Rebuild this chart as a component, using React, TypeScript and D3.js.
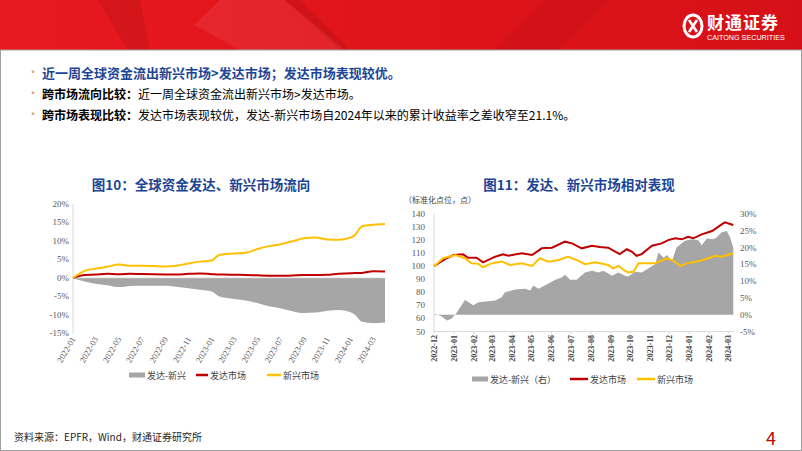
import React from 'react';
import * as d3 from 'd3';

const W = 802;
const H = 451;

const parse = d3.timeParse('%Y-%m-%d');

// 图10：全球资金发达、新兴市场流向 (累计流入占比, %)
const flowDates = [
  '2022-01-01', '2022-02-01', '2022-03-01', '2022-04-01', '2022-05-01', '2022-06-01',
  '2022-07-01', '2022-08-01', '2022-09-01', '2022-10-01', '2022-11-01', '2022-12-01',
  '2023-01-01', '2023-01-20', '2023-02-01', '2023-03-01', '2023-04-01', '2023-05-01',
  '2023-06-01', '2023-07-01', '2023-08-01', '2023-09-01', '2023-10-01', '2023-11-01',
  '2023-12-01', '2024-01-01', '2024-01-12', '2024-02-01', '2024-03-01', '2024-04-01',
];
const flowDeveloped = [
  0, 0.8, 0.9, 1.1, 1.0, 1.1, 1.05, 1.0, 0.95, 0.9, 1.1, 1.2,
  1.0, 0.9, 0.9, 0.85, 0.8, 0.7, 0.6, 0.55, 0.65, 0.75, 0.8, 0.85,
  1.15, 1.25, 1.3, 1.35, 1.8, 1.75,
];
const flowEmerging = [
  0, 1.9, 2.5, 3.0, 3.6, 3.3, 3.3, 3.2, 3.1, 3.3, 3.9, 4.4,
  4.7, 6.2, 6.4, 6.6, 6.8, 7.8, 8.6, 9.1, 9.9, 10.7, 10.9, 10.4,
  10.3, 10.9, 11.5, 14.0, 14.4, 14.6,
];
const flowSpread = [
  0, -1.0, -1.6, -2.0, -2.5, -2.2, -2.1, -2.1, -2.1, -2.4, -2.8, -3.2,
  -3.7, -5.0, -5.3, -5.7, -6.1, -6.8, -7.7, -8.2, -9.0, -9.5, -9.4, -8.9,
  -8.7, -9.3, -9.9, -11.9, -12.3, -12.1,
];
const flowYTicks = [20, 15, 10, 5, 0, -5, -10, -15];

// 图11：发达、新兴市场相对表现 (标准化点位)
const perfDeveloped: [string, number][] = [
  ['2022-12-01', 100], ['2022-12-18', 105.5], ['2022-12-31', 108.6], ['2023-01-15', 109.1],
  ['2023-01-23', 106.5], ['2023-02-05', 106.5], ['2023-02-15', 103], ['2023-03-06', 107.3],
  ['2023-03-18', 109.1], ['2023-03-26', 108], ['2023-04-16', 109.9], ['2023-05-02', 108.6],
  ['2023-05-17', 113.7], ['2023-06-02', 114.2], ['2023-06-22', 118.8], ['2023-07-03', 117.5],
  ['2023-07-18', 113.7], ['2023-08-03', 115.7], ['2023-08-15', 114.7], ['2023-08-28', 114.2],
  ['2023-09-08', 111.1], ['2023-09-15', 109.3], ['2023-09-26', 113], ['2023-10-04', 111.1],
  ['2023-10-11', 108], ['2023-10-19', 109.3], ['2023-11-04', 115.7], ['2023-11-19', 117.5],
  ['2023-11-29', 120], ['2023-12-10', 121.4], ['2023-12-20', 120.6], ['2023-12-30', 122.6],
  ['2024-01-07', 121.4], ['2024-01-20', 124.4], ['2024-02-05', 127], ['2024-02-20', 132.1],
  ['2024-02-25', 133.6], ['2024-03-09', 131.6],
];
const perfEmerging: [string, number][] = [
  ['2022-12-01', 100], ['2022-12-15', 106.1], ['2023-01-03', 108.6], ['2023-01-18', 106.1],
  ['2023-01-28', 102.2], ['2023-02-08', 101.8], ['2023-02-15', 99.2], ['2023-02-28', 102.2],
  ['2023-03-16', 103.5], ['2023-03-29', 100.9], ['2023-04-16', 102.2], ['2023-05-02', 100.2],
  ['2023-05-14', 106.1], ['2023-05-27', 103.5], ['2023-06-12', 104.8], ['2023-06-27', 107.3],
  ['2023-07-10', 104.8], ['2023-07-23', 101.5], ['2023-08-08', 103], ['2023-08-28', 100.9],
  ['2023-09-05', 98.4], ['2023-09-13', 100.2], ['2023-09-21', 97.1], ['2023-09-28', 95.3],
  ['2023-10-06', 95.8], ['2023-10-14', 102.2], ['2023-10-24', 102.2], ['2023-11-09', 102.2],
  ['2023-11-27', 106.1], ['2023-12-05', 104.8], ['2023-12-18', 100.2], ['2023-12-28', 102.2],
  ['2024-01-07', 103], ['2024-01-18', 104.2], ['2024-01-30', 106.1], ['2024-02-10', 108],
  ['2024-02-20', 107.3], ['2024-03-09', 109.9],
];
// 发达-新兴 (右轴, %)
const perfSpread: [string, number][] = [
  ['2022-12-01', 0], ['2022-12-03', 0.3], ['2022-12-13', -0.5], ['2022-12-21', -1.7],
  ['2022-12-28', -1.2], ['2023-01-04', 0.3], ['2023-01-18', 4.4], ['2023-01-31', 2.8],
  ['2023-02-08', 3.7], ['2023-02-23', 4.0], ['2023-03-06', 4.2], ['2023-03-16', 5.2],
  ['2023-03-21', 6.7], ['2023-04-06', 7.5], ['2023-04-21', 7.7], ['2023-04-29', 7.2],
  ['2023-05-04', 8.7], ['2023-05-12', 7.7], ['2023-05-27', 9.2], ['2023-06-07', 10.4],
  ['2023-06-17', 11.1], ['2023-06-22', 11.9], ['2023-06-30', 10.4], ['2023-07-10', 10.4],
  ['2023-07-23', 12.6], ['2023-08-03', 13.1], ['2023-08-13', 12.6], ['2023-08-21', 13.1],
  ['2023-09-03', 11.6], ['2023-09-13', 12.6], ['2023-09-23', 11.6], ['2023-09-28', 11.4],
  ['2023-10-09', 12.8], ['2023-10-19', 12.6], ['2023-10-29', 13.8], ['2023-11-09', 15.1],
  ['2023-11-14', 18.5], ['2023-11-22', 17.0], ['2023-11-27', 17.8], ['2023-12-05', 16.1],
  ['2023-12-12', 20.0], ['2023-12-25', 22.0], ['2024-01-05', 22.5], ['2024-01-15', 22.2],
  ['2024-01-20', 20.7], ['2024-01-28', 22.7], ['2024-02-07', 22.5], ['2024-02-12', 23.0],
  ['2024-02-20', 24.6], ['2024-02-28', 24.9], ['2024-03-04', 23.0], ['2024-03-09', 20.0],
];
const perfLeftTicks = [140, 130, 120, 110, 100, 90, 80, 70, 60, 50];
const perfRightTicks = [30, 25, 20, 15, 10, 5, 0, -5];

const RED = '#C00000';
const YELLOW = '#FFC000';
const GRAY = '#A6A6A6';
const BLUE = '#1C4595';
const CJK = '"Noto Sans CJK SC", "Noto Sans", sans-serif';
const SERIF = '"Liberation Serif", "DejaVu Serif", serif';

function FlowChart() {
  const x = d3.scaleTime().domain([parse('2022-01-01')!, parse('2024-04-01')!]).range([73, 385]);
  const y = d3.scaleLinear().domain([-15, 20]).range([333.3, 204]);
  const pts = flowDates.map((d, i) => ({ d: parse(d)!, r: flowDeveloped[i], e: flowEmerging[i], s: flowSpread[i] }));
  const area = d3.area<any>().x(p => x(p.d)).y0(y(0)).y1(p => y(p.s)).curve(d3.curveMonotoneX);
  const lineR = d3.line<any>().x(p => x(p.d)).y(p => y(p.r)).curve(d3.curveMonotoneX);
  const lineE = d3.line<any>().x(p => x(p.d)).y(p => y(p.e)).curve(d3.curveMonotoneX);
  const ticks = x.ticks(d3.timeMonth.every(2)!);
  const fmt = d3.timeFormat('%Y-%m');
  return (
    <g>
      <text x={201} y={190} textAnchor="middle" fontFamily={CJK} fontWeight={700} fontSize={13.5} fill={BLUE}>
        图10：全球资金发达、新兴市场流向
      </text>
      <line x1={73} x2={73} y1={204} y2={333.3} stroke="#D9D9D9" />
      {flowYTicks.map(t => (
        <text key={t} x={69} y={y(t) + 3} textAnchor="end" fontFamily={SERIF} fontSize={9} fill="#595959">
          {t}%
        </text>
      ))}
      <path d={area(pts)!} fill={GRAY} />
      <line x1={73} x2={385} y1={y(0)} y2={y(0)} stroke="#D9D9D9" strokeWidth={0.8} />
      <path d={lineR(pts)!} fill="none" stroke={RED} strokeWidth={2} />
      <path d={lineE(pts)!} fill="none" stroke={YELLOW} strokeWidth={2} />
      {ticks.map(t => (
        <text key={+t} transform={`translate(${x(t) + 3},${339}) rotate(-60)`} textAnchor="end"
          fontFamily={SERIF} fontSize={8.5} fill="#595959">
          {fmt(t)}
        </text>
      ))}
      <g fontFamily={CJK} fontSize={9} fill="#404040">
        <rect x={129} y={372.5} width={16} height={5} fill={GRAY} />
        <text x={147} y={378.5}>发达-新兴</text>
        <line x1={196} x2={208} y1={375} y2={375} stroke={RED} strokeWidth={2.5} />
        <text x={210} y={378.5}>发达市场</text>
        <line x1={267} x2={281} y1={375} y2={375} stroke={YELLOW} strokeWidth={2.5} />
        <text x={283} y={378.5}>新兴市场</text>
      </g>
    </g>
  );
}

function PerfChart() {
  const x = d3.scaleTime().domain([parse('2022-12-01')!, parse('2024-03-09')!]).range([434, 733.3]);
  const yL = d3.scaleLinear().domain([50, 140]).range([331.5, 214]);
  const yR = d3.scaleLinear().domain([-5, 30]).range([331.5, 214]);
  const area = d3.area<[string, number]>().x(p => x(parse(p[0])!)).y0(yR(0)).y1(p => yR(p[1]));
  const line = d3.line<[string, number]>().x(p => x(parse(p[0])!)).y(p => yL(p[1]));
  const ticks = d3.timeMonth.range(parse('2022-12-01')!, parse('2024-03-02')!);
  const fmt = d3.timeFormat('%Y-%m');
  return (
    <g>
      <text x={579} y={190} textAnchor="middle" fontFamily={CJK} fontWeight={700} fontSize={13.5} fill={BLUE}>
        图11：发达、新兴市场相对表现
      </text>
      <text x={404} y={203} fontFamily={CJK} fontSize={8} fill="#404040">（标准化点位，点）</text>
      <path d={area(perfSpread)!} fill={GRAY} />
      <line x1={434} x2={434} y1={214} y2={331.5} stroke="#D9D9D9" />
      <line x1={434} x2={733.3} y1={331.5} y2={331.5} stroke="#D9D9D9" />
      {perfLeftTicks.map(t => (
        <text key={t} x={425} y={yL(t) + 3} textAnchor="end" fontFamily={SERIF} fontSize={9} fill="#595959">
          {t}
        </text>
      ))}
      {perfRightTicks.map(t => (
        <text key={t} x={740} y={yR(t) + 3} fontFamily={SERIF} fontSize={9} fill="#595959">
          {t}%
        </text>
      ))}
      <path d={line(perfDeveloped)!} fill="none" stroke={RED} strokeWidth={2} />
      <path d={line(perfEmerging)!} fill="none" stroke={YELLOW} strokeWidth={2} />
      {ticks.map(t => (
        <g key={+t}>
          <line x1={x(t)} x2={x(t)} y1={331.5} y2={334} stroke="#D9D9D9" />
          <text transform={`translate(${x(t) + 3},${335}) rotate(-90)`} textAnchor="end"
            fontFamily={SERIF} fontWeight={700} fontSize={8} fill="#404040">
            {fmt(t)}
          </text>
        </g>
      ))}
      <g fontFamily={CJK} fontSize={9} fill="#404040">
        <rect x={472} y={376.5} width={16} height={5} fill={GRAY} />
        <text x={490} y={382.5}>发达-新兴（右）</text>
        <line x1={570} x2={588} y1={379} y2={379} stroke={RED} strokeWidth={2.5} />
        <text x={590} y={382.5}>发达市场</text>
        <line x1={637} x2={655} y1={379} y2={379} stroke={YELLOW} strokeWidth={2.5} />
        <text x={657} y={382.5}>新兴市场</text>
      </g>
    </g>
  );
}

function Header() {
  return (
    <g>
      <defs>
        <linearGradient id="bannerGrad" x1="0" x2="1" y1="0" y2="0">
          <stop offset="0" stopColor="#E8191F" />
          <stop offset="0.5" stopColor="#DF1419" />
          <stop offset="1" stopColor="#D51117" />
        </linearGradient>
      </defs>
      <rect x={0} y={0} width={W} height={50} fill="url(#bannerGrad)" />
      <polygon points="97,0 140,0 150,50 128,50" fill="#000" opacity={0.07} />
      <polygon points="220,0 285,0 345,50 240,50 194,25" fill="#fff" opacity={0.07} />
      <polygon points="285,0 300,0 350,50 340,50" fill="#000" opacity={0.08} />
      <polygon points="545,0 610,0 560,50 495,50" fill="#000" opacity={0.04} />
      <g transform="translate(693,26)" fill="none" stroke="#fff">
        <ellipse rx={9} ry={11} strokeWidth={3} />
        <path d="M-4,-6 L4,6 M4,-6 L-4,6" strokeWidth={2.6} />
      </g>
      <text x={707} y={29} fontFamily={CJK} fontWeight={700} fontSize={17} fill="#fff" letterSpacing={1}>
        财通证券
      </text>
      <text x={707} y={40} fontFamily='"Liberation Sans", Arial, sans-serif' fontSize={7.2} fill="#fff">
        CAITONG SECURITIES
      </text>
      <rect x={0.5} y={50} width={W - 1} height={H - 50.5} fill="none" stroke="#A0A0A0" />
    </g>
  );
}

function Bullets() {
  const dot = (y: number) => (
    <text x={27} y={y} fontFamily={CJK} fontSize={12} fill="#D9A36E">•</text>
  );
  return (
    <g fontFamily={CJK}>
      {dot(77)}
      <text x={42} y={78} fontSize={13} fontWeight={700} fill={BLUE}>
        近一周全球资金流出新兴市场&gt;发达市场；发达市场表现较优。
      </text>
      {dot(98)}
      <text x={42} y={98.5} fontSize={12} fill="#000">
        <tspan fontWeight={700}>跨市场流向比较：</tspan>
        <tspan>近一周全球资金流出新兴市场&gt;发达市场。</tspan>
      </text>
      {dot(119)}
      <text x={42} y={119.5} fontSize={12} fill="#000">
        <tspan fontWeight={700}>跨市场表现比较：</tspan>
        <tspan>发达市场表现较优，发达-新兴市场自2024年以来的累计收益率之差收窄至21.1%。</tspan>
      </text>
    </g>
  );
}

export default function App() {
  return (
    <div style={{ position: 'fixed', left: 0, top: 0, width: W, height: H, background: '#fff' }}>
      <svg width={W} height={H} viewBox={`0 0 ${W} ${H}`}>
        <rect width={W} height={H} fill="#fff" />
        <Header />
        <Bullets />
        <FlowChart />
        <PerfChart />
        <text x={14} y={441} fontFamily={CJK} fontSize={10} fill="#262626">
          资料来源：EPFR，Wind，财通证券研究所
        </text>
        <text x={766} y={445} fontFamily={CJK} fontSize={18} fill={RED}>4</text>
      </svg>
    </div>
  );
}
